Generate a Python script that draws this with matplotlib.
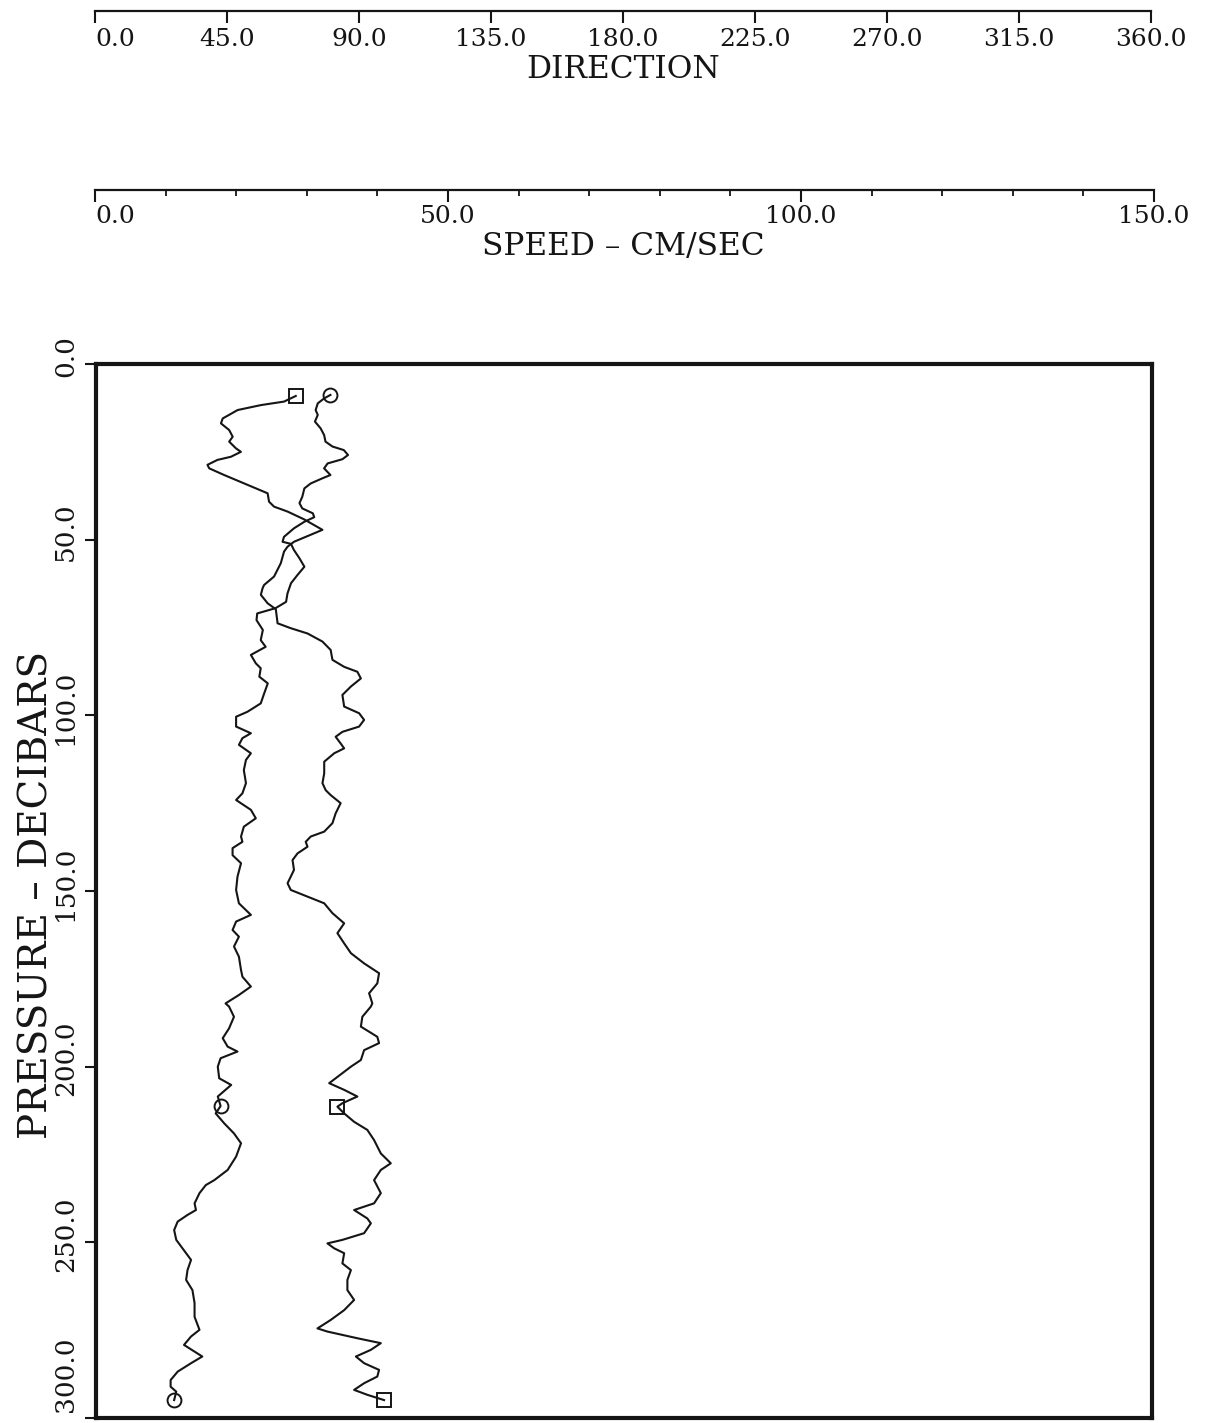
import matplotlib
matplotlib.use("Agg")
import matplotlib.pyplot as plt
from matplotlib import transforms as mtrans

# ---------------- data ----------------
dir_pressure = [9.1, 10.7, 11.7, 13.1, 15.5, 16.9, 18.8, 20.7, 22.1, 24.0,
                25.0, 26.4, 27.3, 28.7, 29.7, 31.6, 34.0, 36.8, 39.2, 40.6,
                42.0, 44.2, 47.2, 50.6, 52.0, 53.4, 56.7, 60.5, 62.9, 63.8,
                65.7, 68.1, 69.8, 73.8, 75.2, 76.7, 79.0, 81.4, 84.2, 86.2,
                87.6, 89.5, 91.8, 94.2, 97.5, 99.4, 101.3, 103.2, 104.7, 106.1,
                108.0, 109.4, 110.8, 113.2, 116.5, 119.3, 121.3, 122.7, 125.0, 127.9,
                130.7, 133.1, 134.5, 136.0, 137.4, 139.3, 141.2, 144.0, 147.8, 149.7,
                151.6, 153.5, 156.3, 159.2, 162.0, 164.9, 167.7, 170.6, 173.4, 176.3,
                179.1, 182.0, 182.9, 185.8, 188.6, 191.5, 193.3, 195.3, 198.1, 200.0,
                202.9, 204.7, 206.6, 208.5, 210.4, 211.4, 213.3, 215.7, 218.0, 220.9,
                224.7, 227.5, 229.4, 232.3, 236.0, 238.9, 240.8, 243.2, 244.6, 247.4,
                249.3, 250.3, 251.7, 253.1, 256.0, 257.9, 260.7, 263.6, 266.4, 269.3,
                272.1, 274.5, 275.4, 277.3, 278.7, 280.6, 282.5, 284.4, 286.3, 288.2,
                290.1, 292.0, 293.4, 294.9]
direction = [68.1, 64.1, 56.2, 48.3, 43.2, 42.6, 45.4, 46.6, 45.4, 47.7,
             49.4, 46.0, 41.4, 38.0, 38.6, 43.7, 50.5, 58.5, 59.0, 60.7,
             65.3, 70.9, 77.2, 67.5, 65.3, 64.1, 63.0, 60.7, 57.3, 56.8,
             56.2, 58.5, 61.3, 61.9, 66.4, 72.1, 77.2, 80.0, 80.6, 84.6,
             89.1, 90.3, 86.9, 84.0, 84.6, 89.7, 91.4, 89.7, 84.0, 81.7,
             83.4, 84.6, 81.2, 77.8, 77.8, 77.2, 78.3, 80.0, 83.4, 81.7,
             80.6, 77.8, 73.2, 71.5, 72.1, 68.7, 67.0, 67.5, 65.3, 66.4,
             72.1, 77.8, 80.6, 84.6, 82.3, 84.6, 86.9, 91.4, 96.5, 95.9,
             93.1, 94.2, 93.7, 90.8, 90.3, 95.9, 96.5, 91.4, 90.3, 86.9,
             82.3, 79.5, 84.6, 89.1, 84.0, 82.3, 84.6, 88.0, 92.5, 94.8,
             97.1, 100.5, 97.1, 94.8, 97.1, 94.8, 88.0, 92.5, 93.7, 91.4,
             84.0, 78.9, 81.2, 84.6, 84.0, 86.9, 85.7, 85.7, 88.0, 84.6,
             80.0, 75.5, 78.9, 89.1, 97.1, 93.7, 88.6, 91.4, 96.5, 95.9,
             91.4, 88.0, 92.5, 98.2]
dir_marks = [0, 95, len(direction) - 1]

spd_pressure = [8.8, 9.8, 11.2, 13.1, 14.5, 16.4, 18.3, 20.2, 22.1, 23.5,
                24.5, 25.9, 27.1, 28.3, 29.7, 31.6, 32.5, 34.0, 35.4, 37.8,
                39.6, 41.1, 42.5, 43.6, 44.9, 46.8, 49.2, 50.6, 51.2, 52.9,
                55.3, 57.7, 60.1, 62.4, 65.3, 67.7, 69.5, 71.0, 72.9, 75.7,
                78.6, 80.5, 82.8, 85.2, 86.6, 89.0, 90.9, 93.7, 96.6, 99.0,
                100.4, 103.2, 105.1, 106.5, 108.4, 110.8, 112.7, 115.6, 119.3, 122.2,
                124.1, 126.9, 129.3, 131.7, 134.5, 136.0, 137.8, 139.8, 142.1, 145.9,
                149.7, 153.5, 156.8, 158.7, 161.1, 163.0, 165.8, 168.7, 172.5, 174.4,
                177.2, 179.6, 182.0, 182.9, 185.8, 189.1, 191.9, 194.3, 195.7, 197.6,
                200.0, 203.3, 205.2, 206.6, 208.5, 211.2, 213.3, 216.1, 219.0, 221.8,
                225.6, 229.4, 232.3, 233.7, 236.0, 238.9, 240.8, 242.2, 244.1, 246.5,
                249.3, 251.2, 255.0, 257.9, 260.7, 263.6, 267.3, 271.2, 274.9, 276.8,
                279.2, 281.1, 282.5, 284.4, 286.8, 289.2, 291.1, 292.5, 294.9]
speed = [33.3, 32.4, 31.5, 31.2, 31.5, 31.1, 31.9, 32.4, 32.6, 33.6,
         35.2, 35.8, 35.0, 32.9, 32.4, 33.3, 32.2, 30.5, 29.6, 29.3,
         28.9, 29.3, 30.8, 31.0, 29.6, 28.1, 26.7, 26.5, 27.7, 28.1,
         28.9, 29.6, 28.6, 27.7, 27.2, 27.0, 25.5, 22.9, 22.8, 23.7,
         23.4, 24.1, 22.0, 22.7, 23.4, 23.2, 24.4, 23.9, 23.4, 21.5,
         19.9, 19.9, 22.0, 20.8, 20.3, 22.0, 21.3, 21.0, 21.3, 20.8,
         19.9, 22.0, 22.7, 21.0, 20.6, 20.8, 19.4, 19.4, 20.6, 20.1,
         19.9, 20.3, 22.0, 19.9, 19.4, 20.3, 19.6, 20.3, 20.6, 20.8,
         22.0, 20.3, 18.4, 18.9, 19.6, 18.9, 18.0, 18.7, 20.1, 17.7,
         17.3, 17.5, 19.2, 18.4, 17.3, 17.7, 17.0, 18.2, 19.6, 20.6,
         19.9, 18.7, 16.8, 15.6, 14.7, 14.0, 14.2, 13.0, 11.6, 11.1,
         11.4, 12.1, 13.5, 13.0, 12.8, 13.7, 14.0, 14.0, 14.7, 13.5,
         12.5, 14.0, 15.1, 13.5, 11.6, 10.6, 10.6, 11.4, 11.1]
spd_marks = [0, 95, len(speed) - 1]

dir_ticks = [0, 45, 90, 135, 180, 225, 270, 315, 360]
spd_major = [0, 50, 100, 150]
spd_minor = [10, 20, 30, 40, 60, 70, 80, 90, 110, 120, 130, 140]
p_ticks = [0, 50, 100, 150, 200, 250, 300]

# ---------------- figure ----------------
W, H = 1205, 1423
plt.rcParams['font.family'] = ['DejaVu Serif']
fig = plt.figure(figsize=(W / 100, H / 100), dpi=100)
fig.patch.set_facecolor('white')

def fx(px):
    return px / W

def fy(py):
    return 1 - py / H

INK = '#151515'
L, R = 96, 1152
TOP, BOT = 364, 1418

# main panel
ax = fig.add_axes([fx(L), fy(BOT), (R - L) / W, (BOT - TOP) / H])
ax.set_xlim(0, 150)
ax.set_ylim(300, 0)
for s in ax.spines.values():
    s.set_linewidth(3.0)
    s.set_color(INK)
ax.set_xticks([])
ax.set_yticks(p_ticks)
ax.set_yticklabels([])
ax.tick_params(axis='y', direction='out', length=8, width=1.5, color=INK)

lbl_tr = mtrans.blended_transform_factory(ax.transAxes, ax.transData)
for p in p_ticks:
    if p == 300:
        tr = lbl_tr + mtrans.ScaledTranslation(0, 6 / 100, fig.dpi_scale_trans)
        va = 'bottom'
    else:
        tr = lbl_tr + mtrans.ScaledTranslation(0, 8 / 100, fig.dpi_scale_trans)
        va = 'center'
    ax.text(-(96 - 78) / (R - L), p, f"{p:.1f}", rotation=90, ha='right', va=va,
            fontsize=19, color=INK, transform=tr, clip_on=False)

ax.plot(speed, spd_pressure, color=INK, lw=1.5, marker='o', markevery=spd_marks,
        markersize=10, markerfacecolor='none', markeredgecolor=INK, markeredgewidth=1.4)

ax2 = ax.twiny()
ax2.set_xlim(0, 360)
ax2.axis('off')
ax2.plot(direction, dir_pressure, color=INK, lw=1.5, marker='s', markevery=dir_marks,
         markersize=9.5, markerfacecolor='none', markeredgecolor=INK, markeredgewidth=1.4)

fig.text(fx(37), fy(895), 'PRESSURE \u2013 DECIBARS', rotation=90, ha='center', va='center',
         fontsize=28, color=INK)

# direction scale
axd = fig.add_axes([fx(95), fy(11), (1151 - 95) / W, 1e-5])
axd.set_xlim(0, 360)
axd.patch.set_visible(False)
for k in ('left', 'right', 'top'):
    axd.spines[k].set_visible(False)
axd.spines['bottom'].set_linewidth(1.6)
axd.spines['bottom'].set_color(INK)
axd.set_yticks([])
axd.set_xticks(dir_ticks)
axd.set_xticklabels([f"{v:.1f}" for v in dir_ticks])
axd.tick_params(axis='x', direction='out', length=8.6, width=1.5, color=INK,
                labelsize=18, pad=4, labelcolor=INK)
axd.get_xticklabels()[0].set_ha('left')
fig.text(fx(623), fy(70), 'DIRECTION', ha='center', va='center', fontsize=22.5, color=INK)

# speed scale
axs = fig.add_axes([fx(95), fy(190), (1154 - 95) / W, 1e-5])
axs.set_xlim(0, 150)
axs.patch.set_visible(False)
for k in ('left', 'right', 'top'):
    axs.spines[k].set_visible(False)
axs.spines['bottom'].set_linewidth(1.6)
axs.spines['bottom'].set_color(INK)
axs.set_yticks([])
axs.set_xticks(spd_major)
axs.set_xticklabels([f"{v:.1f}" for v in spd_major])
axs.set_xticks(spd_minor, minor=True)
axs.tick_params(axis='x', which='major', direction='out', length=8.6, width=1.5, color=INK,
                labelsize=18, pad=2, labelcolor=INK)
axs.tick_params(axis='x', which='minor', direction='out', length=4.3, width=1.3, color=INK)
axs.get_xticklabels()[0].set_ha('left')
fig.text(fx(623), fy(246), 'SPEED \u2013 CM/SEC', ha='center', va='center', fontsize=22.5, color=INK)

fig.savefig('out.png', dpi=100, facecolor='white')
